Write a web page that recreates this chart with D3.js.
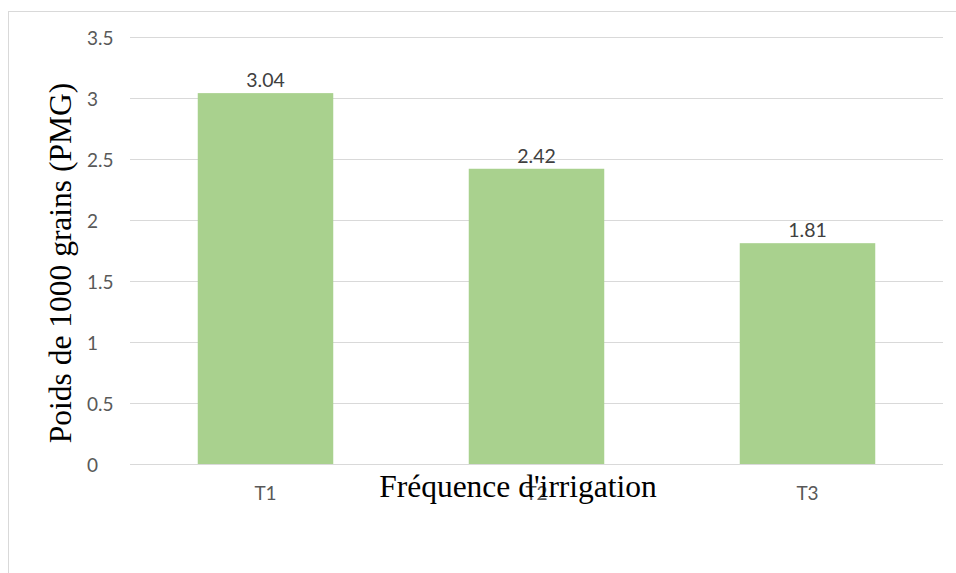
<!DOCTYPE html>
<html>
<head>
<meta charset="utf-8">
<script src="https://cdn.jsdelivr.net/npm/d3@7"></script>
<style>
  html, body { margin: 0; padding: 0; background: #fff; }
  svg { display: block; }
</style>
</head>
<body>
<svg id="chart" width="956" height="573"></svg>
<script>
const categories = ["T1", "T2", "T3"];
const values = [3.04, 2.42, 1.81];
const yTicks = [0, 0.5, 1, 1.5, 2, 2.5, 3, 3.5];
const yTickLabels = ["0", "0.5", "1", "1.5", "2", "2.5", "3", "3.5"];
const xTitle = "Fréquence d'irrigation";
const yTitle = "Poids de 1000 grains (PMG)";

(function () {
const svg = d3.select("#chart");
const W = 956, H = 573;
const mLeft = 130, mRight = 943, mTop = 37, mBottom = 464;
const sansFont = "Lato, 'Open Sans', sans-serif";
const serifFont = "'Liberation Serif', 'Times New Roman', serif";

svg.append("rect").attr("x", 0).attr("y", 0).attr("width", W).attr("height", H).attr("fill", "#fff");
svg.append("rect").attr("x", 8.5).attr("y", 11.5).attr("width", 980).attr("height", 600)
  .attr("fill", "none").attr("stroke", "#d9d9d9").attr("stroke-width", 1);

const x = d3.scaleBand().domain(categories).range([mLeft, mRight]).paddingInner(0.5).paddingOuter(0.25);
const y = d3.scaleLinear().domain([0, 3.5]).range([mBottom, mTop]);

const yAxis = d3.axisLeft(y).tickValues(yTicks).tickSize(-(mRight - mLeft)).tickPadding(14)
  .tickFormat((d, i) => yTickLabels[i]);
const gy = svg.append("g").attr("transform", `translate(${mLeft},0)`).call(yAxis);
gy.select(".domain").remove();
gy.selectAll(".tick line").attr("stroke", "#d9d9d9").attr("stroke-width", 1);
gy.selectAll(".tick text")
  .attr("x", 87 - mLeft).attr("dy", "0.42em").attr("text-anchor", "start")
  .attr("fill", "#595959").style("font-family", sansFont).style("font-size", "19px");

svg.append("g").selectAll("rect").data(values).join("rect")
  .attr("x", (d, i) => x(categories[i]))
  .attr("y", d => y(d))
  .attr("width", x.bandwidth())
  .attr("height", d => y(0) - y(d))
  .attr("fill", "#a9d18e");

svg.append("g").selectAll("text").data(values).join("text")
  .attr("x", (d, i) => x(categories[i]) + x.bandwidth() / 2)
  .attr("y", d => y(d) - 6)
  .attr("text-anchor", "middle")
  .attr("fill", "#404040")
  .style("font-family", sansFont)
  .style("font-size", "19.5px")
  .text(d => d.toFixed(2));

const xAxis = d3.axisBottom(x).tickSize(0).tickPadding(0);
const gx = svg.append("g").attr("transform", `translate(0,${mBottom})`).call(xAxis);
gx.select(".domain").remove();
gx.selectAll(".tick text").attr("y", 36).attr("dy", null)
  .attr("fill", "#595959").style("font-family", sansFont).style("font-size", "19px");

svg.append("text").attr("x", 518).attr("y", 497).attr("text-anchor", "middle")
  .style("font-family", serifFont).style("font-size", "31.5px").attr("fill", "#000")
  .text(xTitle);
svg.append("text").attr("transform", "translate(71,263) rotate(-90)").attr("text-anchor", "middle")
  .style("font-family", serifFont).style("font-size", "31.5px").attr("fill", "#000")
  .text(yTitle);
})();
</script>
</body>
</html>
